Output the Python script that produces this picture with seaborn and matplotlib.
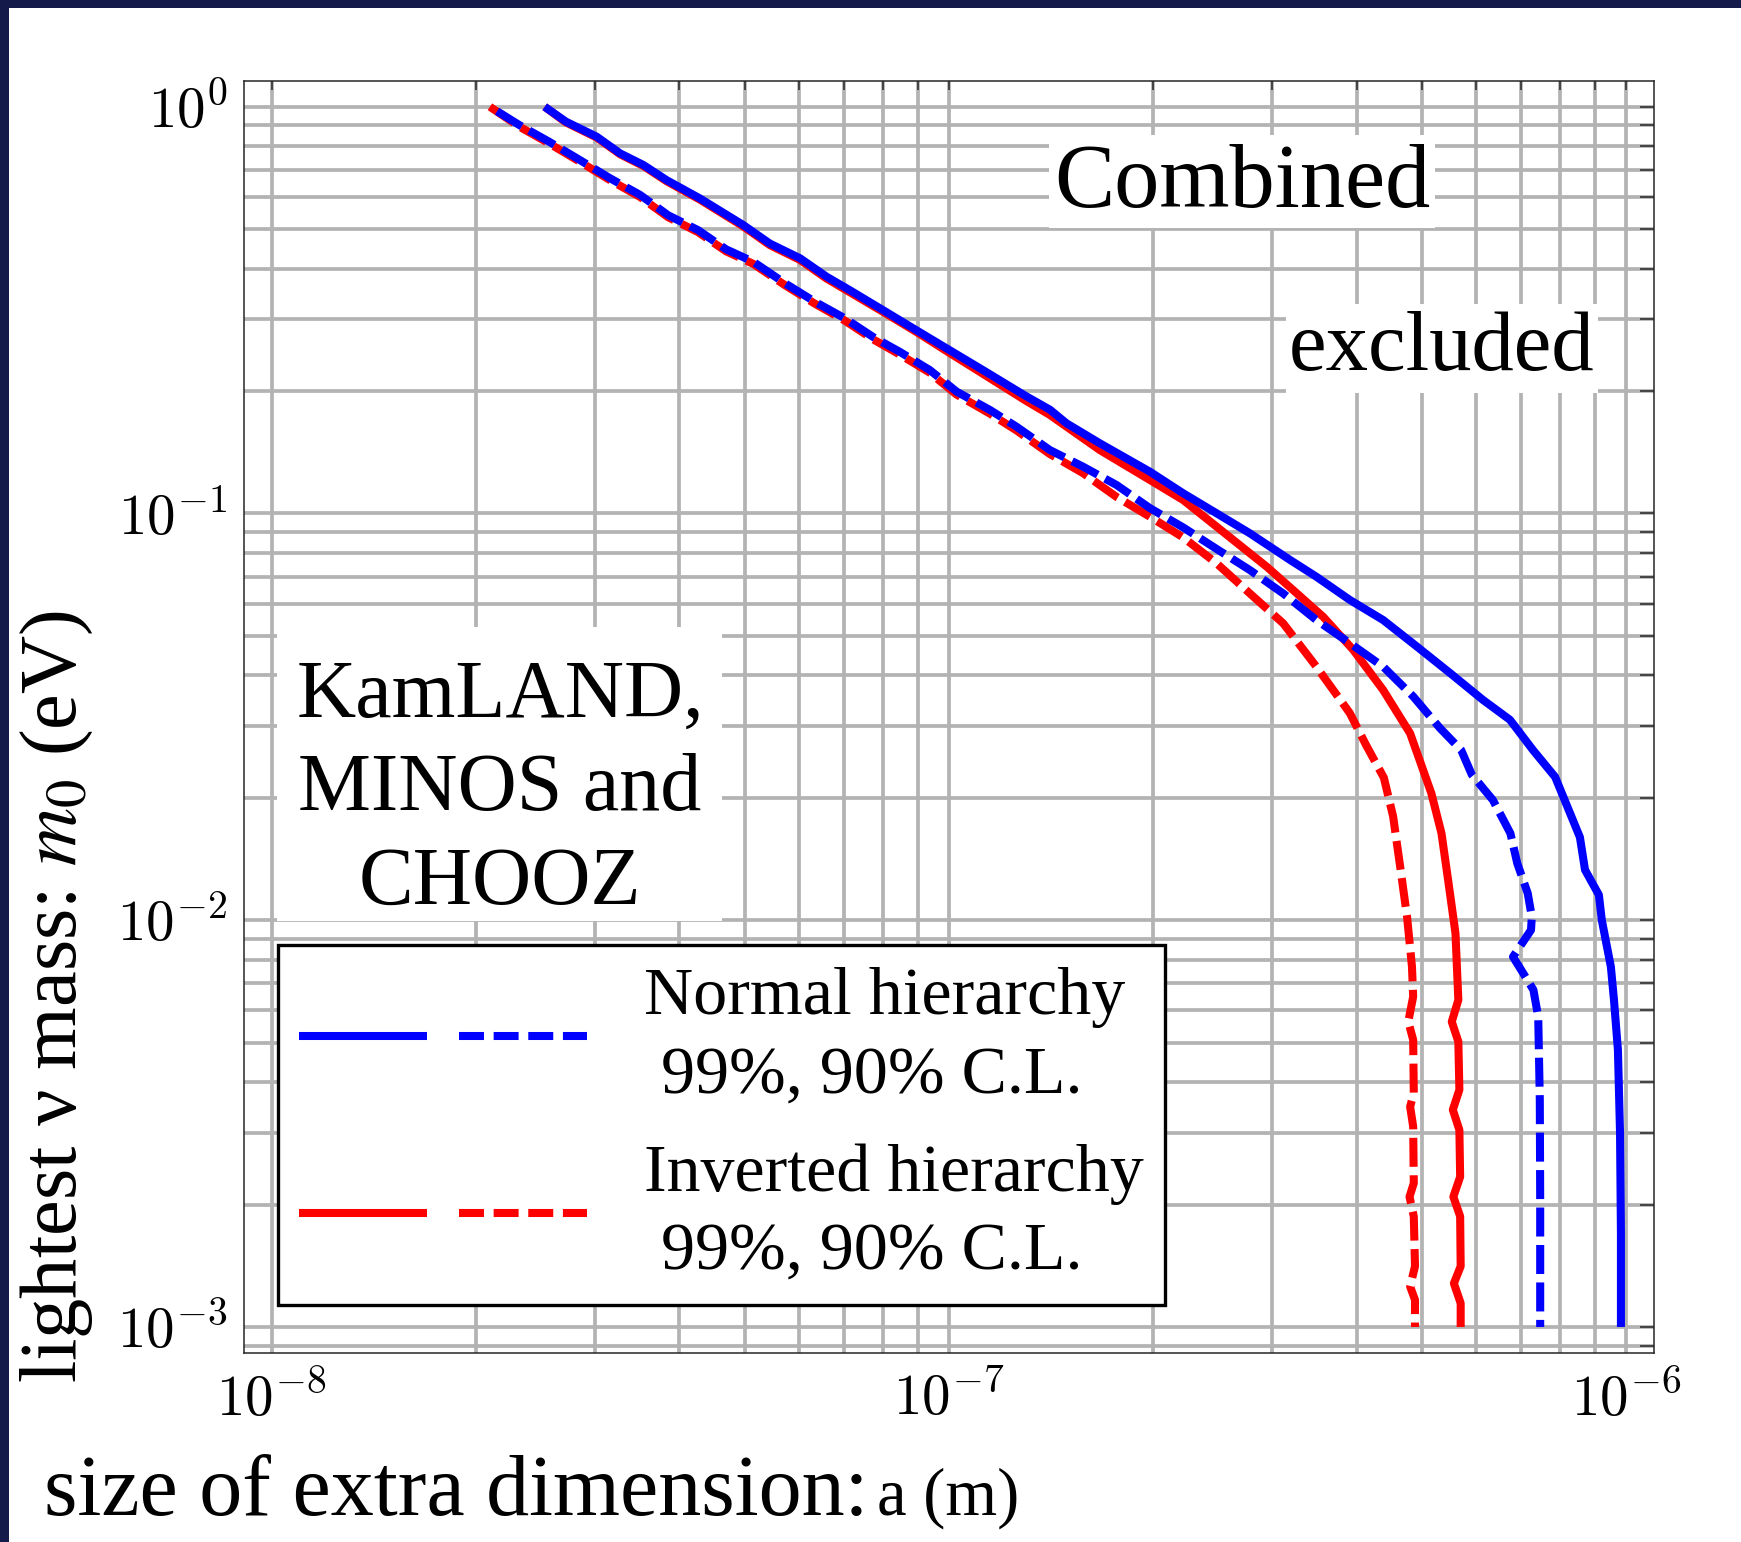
import matplotlib
matplotlib.use("Agg")
import numpy as np
import matplotlib.pyplot as plt
import seaborn as sns
from matplotlib.lines import Line2D
from matplotlib.patches import Rectangle
from matplotlib.legend_handler import HandlerTuple
from matplotlib.ticker import FixedLocator, FuncFormatter, LogLocator, NullFormatter

# ---- exclusion boundaries: extra-dimension size a (m) vs lightest neutrino mass m0 (eV) ----
# Normal hierarchy, 99% C.L.
nh99_a = [2.53e-8, 2.72e-8, 3.02e-8, 3.27e-8, 3.54e-8, 3.83e-8, 4.29e-8, 4.97e-8, 5.44e-8,
          6.03e-8, 6.60e-8, 7.14e-8, 8.00e-8, 8.96e-8, 1.003e-7, 1.124e-7, 1.302e-7, 1.41e-7,
          1.492e-7, 1.671e-7, 1.981e-7, 2.219e-7, 2.486e-7, 2.783e-7, 3.19e-7, 3.49e-7,
          3.91e-7, 4.38e-7, 4.91e-7, 5.50e-7, 6.15e-7, 6.74e-7, 7.29e-7, 7.86e-7, 8.55e-7,
          8.70e-7, 9.12e-7, 9.21e-7, 9.50e-7, 9.60e-7, 9.73e-7, 9.80e-7, 9.83e-7, 9.83e-7]
nh99_m = [1.0, 0.919, 0.844, 0.768, 0.719, 0.660, 0.595, 0.512, 0.461, 0.424, 0.382, 0.354,
          0.316, 0.282, 0.252, 0.225, 0.194, 0.180, 0.1666, 0.1488, 0.1267, 0.1121, 0.1001,
          0.0894, 0.0769, 0.0699, 0.0613, 0.0547, 0.0471, 0.0405, 0.0348, 0.0311, 0.0262,
          0.0225, 0.0160, 0.0133, 0.01154, 0.01002, 0.00768, 0.00637, 0.0048, 0.0030,
          0.0017, 0.001]

# Normal hierarchy, 90% C.L.
nh90_a = [2.10e-8, 2.32e-8, 2.57e-8, 2.85e-8, 3.16e-8, 3.50e-8, 3.85e-8, 4.26e-8, 4.69e-8,
          5.14e-8, 5.73e-8, 6.34e-8, 7.02e-8, 7.73e-8, 8.46e-8, 9.37e-8, 1.027e-7, 1.150e-7,
          1.259e-7, 1.41e-7, 1.579e-7, 1.769e-7, 1.981e-7, 2.219e-7, 2.486e-7, 2.783e-7,
          3.117e-7, 3.49e-7, 3.91e-7, 4.38e-7, 4.85e-7, 5.31e-7, 5.71e-7, 5.92e-7, 6.36e-7,
          6.75e-7, 6.91e-7, 7.16e-7, 7.26e-7, 7.24e-7, 6.81e-7, 7.05e-7, 7.30e-7, 7.42e-7,
          7.46e-7, 7.47e-7, 7.47e-7]
nh90_m = [1.0, 0.902, 0.820, 0.740, 0.667, 0.607, 0.541, 0.4976, 0.446, 0.416, 0.368, 0.3316,
          0.3019, 0.2716, 0.2498, 0.2253, 0.1993, 0.1797, 0.1634, 0.1432, 0.1303, 0.1175,
          0.1031, 0.0924, 0.0818, 0.0726, 0.0636, 0.0547, 0.0480, 0.0420, 0.0355, 0.0297,
          0.0262, 0.0228, 0.01975, 0.01636, 0.0138, 0.01165, 0.0102, 0.00946, 0.00813,
          0.00741, 0.00674, 0.00579, 0.00362, 0.00205, 0.001]

# Inverted hierarchy, 99% C.L.
ih99_a = [2.53e-8, 2.72e-8, 3.02e-8, 3.27e-8, 3.54e-8, 3.83e-8, 4.29e-8, 4.97e-8, 5.44e-8,
          6.03e-8, 6.60e-8, 7.14e-8, 8.00e-8, 8.96e-8, 1.003e-7, 1.124e-7, 1.302e-7, 1.41e-7,
          1.671e-7, 1.981e-7, 2.219e-7, 2.486e-7, 2.63e-7, 2.947e-7, 3.225e-7, 3.572e-7,
          3.956e-7, 4.38e-7, 4.80e-7, 5.16e-7, 5.34e-7, 5.47e-7, 5.60e-7, 5.655e-7, 5.53e-7,
          5.655e-7, 5.675e-7, 5.55e-7, 5.675e-7, 5.69e-7, 5.56e-7, 5.69e-7, 5.70e-7, 5.57e-7,
          5.70e-7, 5.70e-7]
ih99_m = [1.0, 0.915, 0.84, 0.764, 0.715, 0.656, 0.591, 0.508, 0.457, 0.42, 0.378, 0.35,
          0.313, 0.2794, 0.248, 0.2203, 0.189, 0.1747, 0.1432, 0.1209, 0.1079, 0.0928, 0.0861,
          0.0740, 0.0648, 0.0557, 0.0462, 0.0368, 0.0288, 0.0205, 0.01636, 0.01233, 0.00929,
          0.00637, 0.00563, 0.00503, 0.00383, 0.00342, 0.00305, 0.00234, 0.00209, 0.00187,
          0.00141, 0.00128, 0.001144, 0.001]

# Inverted hierarchy, 90% C.L.
ih90_a = [2.10e-8, 2.32e-8, 2.57e-8, 2.85e-8, 3.16e-8, 3.50e-8, 3.85e-8, 4.26e-8, 4.69e-8,
          5.14e-8, 5.73e-8, 6.34e-8, 7.02e-8, 7.73e-8, 8.46e-8, 9.37e-8, 1.027e-7, 1.150e-7,
          1.259e-7, 1.41e-7, 1.579e-7, 1.769e-7, 1.981e-7, 2.219e-7, 2.486e-7, 2.783e-7,
          3.117e-7, 3.49e-7, 3.91e-7, 4.13e-7, 4.39e-7, 4.53e-7, 4.64e-7, 4.75e-7, 4.83e-7,
          4.85e-7, 4.77e-7, 4.85e-7, 4.86e-7, 4.80e-7, 4.85e-7, 4.86e-7, 4.79e-7, 4.86e-7,
          4.88e-7, 4.80e-7, 4.88e-7, 4.88e-7]
ih90_m = [1.0, 0.894, 0.812, 0.733, 0.660, 0.600, 0.535, 0.492, 0.441, 0.411, 0.364, 0.328,
          0.298, 0.268, 0.246, 0.222, 0.196, 0.176, 0.160, 0.140, 0.1256, 0.1098, 0.0982,
          0.0873, 0.0754, 0.0636, 0.0537, 0.0420, 0.0323, 0.0270, 0.0224, 0.0180, 0.01354,
          0.0102, 0.00769, 0.00649, 0.00563, 0.00508, 0.00376, 0.00348, 0.00311, 0.002257,
          0.00209, 0.00187, 0.00141, 0.001257, 0.001166, 0.001]

x_major = [1e-8, 1e-7, 1e-6]
y_major = [1e-3, 1e-2, 1e-1, 1e0]

legend_labels = ["Normal hierarchy\n 99%, 90% C.L.", "Inverted hierarchy\n 99%, 90% C.L."]

# ---- style ----
sns.set_theme(style="whitegrid")
plt.rcParams["font.family"] = ["Liberation Serif", "DejaVu Serif"]
plt.rcParams["mathtext.fontset"] = "cm"
plt.rcParams["text.color"] = "black"
plt.rcParams["axes.labelcolor"] = "black"
plt.rcParams["xtick.color"] = "black"
plt.rcParams["ytick.color"] = "black"

W, H = 1741, 1542
fig = plt.figure(figsize=(W / 100, H / 100), dpi=100, facecolor="white")

# axes box in pixel units -> figure fractions
L_px, R_px, T_px, B_px = 244, 1654, 81, 1353
ax = fig.add_axes([L_px / W, 1 - B_px / H, (R_px - L_px) / W, (B_px - T_px) / H])
ax.set_facecolor("white")
ax.set_xscale("log")
ax.set_yscale("log")

LW = 5.8
DASH = (3.6, 1.05)
curves = [
    (ih99_a, ih99_m, "#ff0000", "-"),
    (ih90_a, ih90_m, "#ff0000", (0.0, DASH)),
    (nh99_a, nh99_m, "#0000ff", "-"),
    (nh90_a, nh90_m, "#0000ff", (DASH[0], DASH)),
]
for a, m, col, ls in curves:
    sns.lineplot(x=a, y=m, sort=False, estimator=None, color=col, linewidth=LW,
                 linestyle=ls, solid_capstyle="butt", dash_capstyle="butt",
                 legend=False, ax=ax)

ax.set_xlim(9.1e-9, 1.1e-6)
ax.set_ylim(8.63e-4, 1.157)
ax.set_xlabel("")
ax.set_ylabel("")

# ticks and grid
ax.xaxis.set_major_locator(FixedLocator(x_major))
ax.yaxis.set_major_locator(FixedLocator(y_major))
ax.xaxis.set_minor_locator(LogLocator(base=10, subs=np.arange(2, 10), numticks=30))
ax.yaxis.set_minor_locator(LogLocator(base=10, subs=np.arange(2, 10), numticks=30))
ax.xaxis.set_minor_formatter(NullFormatter())
ax.yaxis.set_minor_formatter(NullFormatter())
sci = FuncFormatter(lambda v, p: r"$10^{%d}$" % int(round(np.log10(v))))
ax.xaxis.set_major_formatter(sci)
ax.yaxis.set_major_formatter(sci)

ax.set_axisbelow(True)
ax.grid(True, which="both", color="#b3b3b3", linewidth=2.7, linestyle="-")
ax.tick_params(which="both", direction="in", top=True, right=True,
               color="#262626", width=1.1, labelsize=41, labelcolor="black")
ax.tick_params(axis="x", which="both", length=6.5, pad=14)
ax.tick_params(axis="y", which="both", length=10, pad=12)
for sp in ax.spines.values():
    sp.set_color("#262626")
    sp.set_linewidth(1.1)
    sp.set_visible(True)


def ax_box(x0, y0, x1, y1):
    """White panel given in pixel coordinates of the figure."""
    return Rectangle(((x0 - L_px) / (R_px - L_px), (B_px - y1) / (B_px - T_px)),
                     (x1 - x0) / (R_px - L_px), (y1 - y0) / (B_px - T_px),
                     transform=ax.transAxes, facecolor="white", edgecolor="none",
                     zorder=3)


def ax_pt(x, y):
    return (x - L_px) / (R_px - L_px), (B_px - y) / (B_px - T_px)


# annotations
ax.add_patch(ax_box(1049, 135, 1435, 228))
ax.text(*ax_pt(1242, 207), "Combined", transform=ax.transAxes, ha="center",
        va="baseline", fontsize=65, color="black", zorder=4)
ax.add_patch(ax_box(1286, 304, 1598, 393))
ax.text(*ax_pt(1442, 370), "excluded", transform=ax.transAxes, ha="center",
        va="baseline", fontsize=61, color="black", zorder=4)
ax.add_patch(ax_box(277, 627, 722, 921))
ax.text(*ax_pt(500, 659), "KamLAND,\nMINOS and\nCHOOZ", transform=ax.transAxes,
        ha="center", va="top", multialignment="center", fontsize=59,
        linespacing=1.32, color="black", zorder=4)

# legend: solid (99%) and dashed (90%) sample per hierarchy
h_nh = (Line2D([], [], color="#0000ff", lw=LW, solid_capstyle="butt"),
        Line2D([], [], color="#0000ff", lw=LW, ls=(0, (3.1, 1.2)), dash_capstyle="butt"))
h_ih = (Line2D([], [], color="#ff0000", lw=LW, solid_capstyle="butt"),
        Line2D([], [], color="#ff0000", lw=LW, ls=(0, (3.1, 1.2)), dash_capstyle="butt"))
leg = ax.legend([h_nh, h_ih], legend_labels,
                handler_map={tuple: HandlerTuple(ndivide=None, pad=0.47)},
                loc="lower left", bbox_to_anchor=ax_pt(277.6, 1304.7), borderaxespad=0,
                prop={"family": "Liberation Serif", "size": 49}, frameon=True,
                fancybox=False, shadow=False, framealpha=1, edgecolor="black",
                facecolor="white", borderpad=0.32, labelspacing=0.54,
                handlelength=4.22, handletextpad=0.84, numpoints=1)
leg.get_frame().set_linewidth(2.4)
leg.set_zorder(6)
for t in leg.get_texts():
    t.set_linespacing(1.37)
    t.set_color("black")

# axis titles
fig.text(57 / W, 1 - 996 / H, r"lightest ν mass: $m_0$ (eV)", rotation=90,
         ha="center", va="center", fontsize=58, color="black", math_fontfamily="stix")
fig.text(44 / W, 1 - 1515 / H, "size of extra dimension:", ha="left", va="baseline",
         fontsize=62, color="black")
fig.text(877 / W, 1 - 1515 / H, "a (m)", ha="left", va="baseline", fontsize=48,
         color="black")

# dark frame on top and left edges
navy = "#141a4a"
fig.patches.append(Rectangle((0, 1 - 8 / H), 1, 8 / H, transform=fig.transFigure,
                             facecolor=navy, edgecolor="none", zorder=10))
fig.patches.append(Rectangle((0, 0), 9 / W, 1, transform=fig.transFigure,
                             facecolor=navy, edgecolor="none", zorder=10))

fig.savefig("out.png", dpi=100, facecolor="white")
